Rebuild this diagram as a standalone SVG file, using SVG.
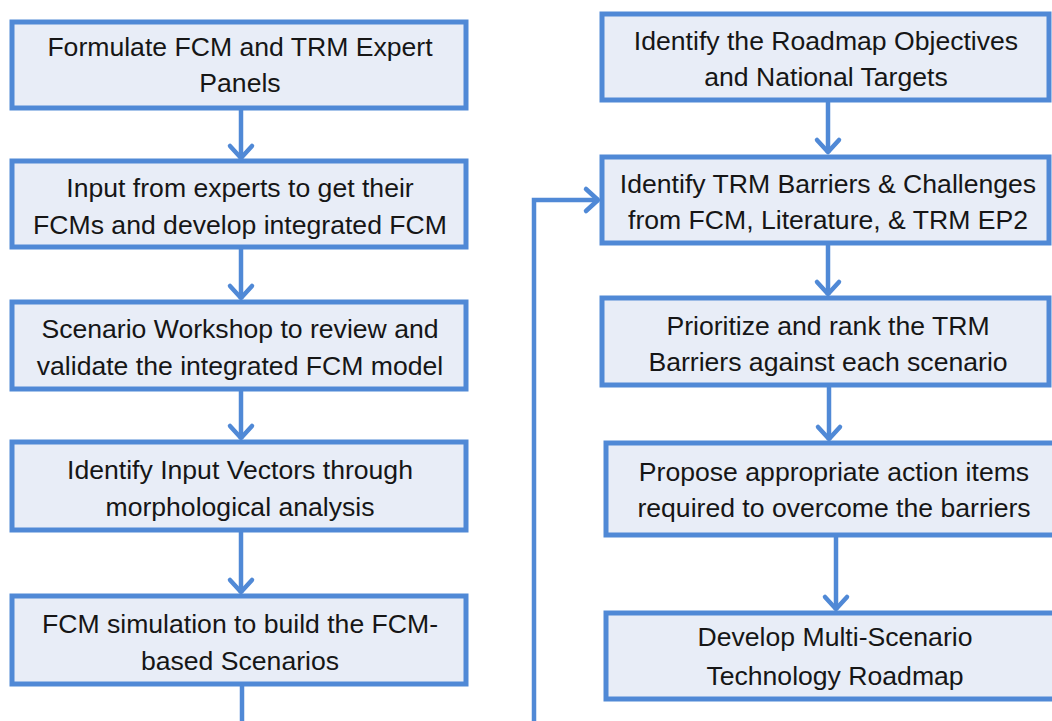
<svg xmlns="http://www.w3.org/2000/svg" width="1052" height="721" viewBox="0 0 1052 721">
<defs>
<style>
.box{fill:#E8EDF7;stroke:#5089D6;stroke-width:5}
.t{font-family:"Liberation Sans",Arial,sans-serif;font-size:26.6px;fill:#161616;text-anchor:middle}
.c{fill:none;stroke:#5089D6;stroke-width:4.5}
</style>
<marker id="ah" markerUnits="userSpaceOnUse" viewBox="-14 -14 28 28" markerWidth="28" markerHeight="28" refX="0" refY="0" orient="auto" overflow="visible">
<path d="M-13,-11 L-1,0 L-13,11" fill="none" stroke="#5089D6" stroke-width="4.5" stroke-linecap="round" stroke-linejoin="round"/>
</marker>
</defs>
<rect width="1052" height="721" fill="#ffffff"/>
<g id="connectors">
<path class="c" d="M241,109 V159" marker-end="url(#ah)"/>
<path class="c" d="M241,249 V299" marker-end="url(#ah)"/>
<path class="c" d="M241,391 V439" marker-end="url(#ah)"/>
<path class="c" d="M241,532 V593" marker-end="url(#ah)"/>
<path class="c" d="M242,686 V745 H534 V200 H599" marker-end="url(#ah)"/>
<path class="c" d="M828,102 V153" marker-end="url(#ah)"/>
<path class="c" d="M828,245 V295" marker-end="url(#ah)"/>
<path class="c" d="M829,387 V440" marker-end="url(#ah)"/>
<path class="c" d="M836,537 V610" marker-end="url(#ah)"/>
</g>
<g id="n1"><rect class="box" x="12" y="22" width="454" height="86"/>
<text class="t" x="240" y="56">Formulate FCM and TRM Expert</text><text class="t" x="240" y="92">Panels</text></g>
<g id="n2"><rect class="box" x="12" y="161" width="454" height="86"/>
<text class="t" x="240" y="197">Input from experts to get their</text><text class="t" x="240" y="234">FCMs and develop integrated FCM</text></g>
<g id="n3"><rect class="box" x="12" y="302" width="454" height="87"/>
<text class="t" x="240" y="338">Scenario Workshop to review and</text><text class="t" x="240" y="375">validate the integrated FCM model</text></g>
<g id="n4"><rect class="box" x="12" y="442" width="454" height="88"/>
<text class="t" x="240" y="479">Identify Input Vectors through</text><text class="t" x="240" y="516">morphological analysis</text></g>
<g id="n5"><rect class="box" x="12" y="596" width="454" height="88"/>
<text class="t" x="240" y="633">FCM simulation to build the FCM-</text><text class="t" x="240" y="670">based Scenarios</text></g>
<g id="n6"><rect class="box" x="602" y="14" width="447" height="86"/>
<text class="t" x="826" y="50">Identify the Roadmap Objectives</text><text class="t" x="826" y="86">and National Targets</text></g>
<g id="n7"><rect class="box" x="602" y="157" width="447" height="86"/>
<text class="t" x="828" y="193">Identify TRM Barriers &amp; Challenges</text><text class="t" x="828" y="229">from FCM, Literature, &amp; TRM EP2</text></g>
<g id="n8"><rect class="box" x="602" y="298" width="447" height="87"/>
<text class="t" x="828" y="335">Prioritize and rank the TRM</text><text class="t" x="828" y="371">Barriers against each scenario</text></g>
<g id="n9"><rect class="box" x="606" y="443" width="460" height="92"/>
<text class="t" x="834" y="481">Propose appropriate action items</text><text class="t" x="834" y="517">required to overcome the barriers</text></g>
<g id="n10"><rect class="box" x="606" y="613" width="460" height="86"/>
<text class="t" x="835" y="646">Develop Multi-Scenario</text><text class="t" x="835" y="685">Technology Roadmap</text></g>
</svg>
